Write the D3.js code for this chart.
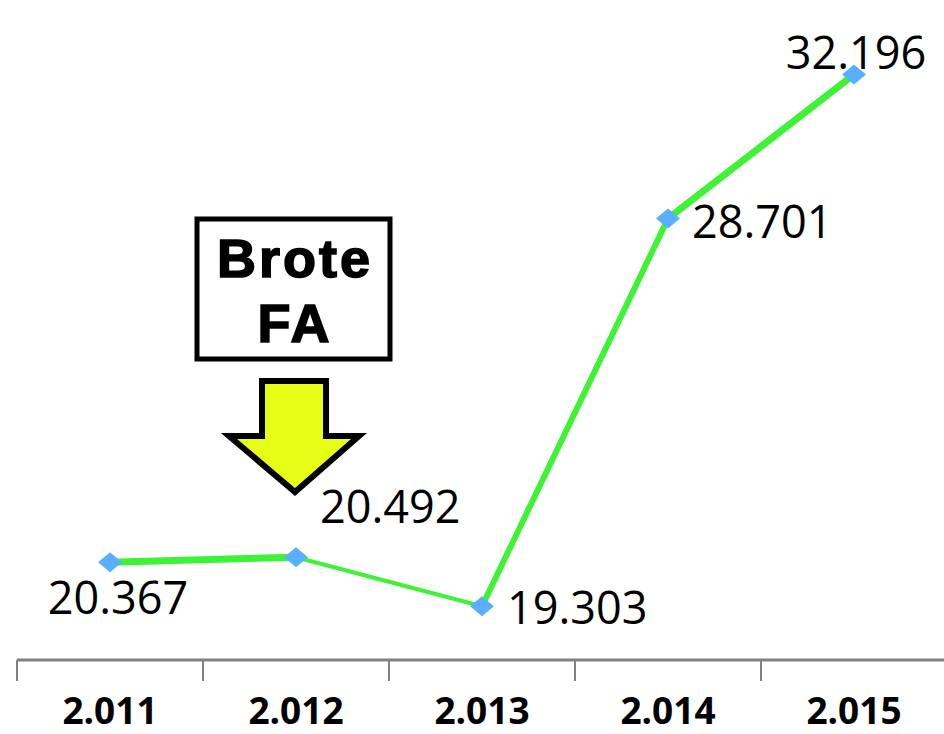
<!DOCTYPE html>
<html>
<head>
<meta charset="utf-8">
<script src="https://cdn.jsdelivr.net/npm/d3@7"></script>
<style>
  body { margin: 0; background: #fff; }
  .val { font-family: "Open Sans", sans-serif; font-size: 45px; fill: #000; }
  .cat { font-family: "Open Sans", sans-serif; font-size: 37px; font-weight: 700; fill: #000; }
  .note { font-family: "Liberation Sans", Arial, sans-serif; font-size: 54px; font-weight: 700; fill: #000;
          stroke: #000; stroke-width: 1.6px; letter-spacing: 3px; }
</style>
</head>
<body>
<svg id="chart" width="944" height="734"></svg>
<script>
// data
var years = ["2.011", "2.012", "2.013", "2.014", "2.015"];
var values = [20.367, 20.492, 19.303, 28.701, 32.196];
var valueLabels = ["20.367", "20.492", "19.303", "28.701", "32.196"];

var svg = d3.select("#chart");

var x = d3.scalePoint().domain(years).range([17, 947]).padding(0.5);
var band = d3.scaleBand().domain(years).range([17, 947]);
var y = d3.scaleLinear().domain([18, 34]).range([660, 0]);

/// axis line + ticks between categories
var axis = svg.append("g");
axis.append("line")
  .attr("x1", 17).attr("x2", 944)
  .attr("y1", y(18)).attr("y2", y(18))
  .attr("stroke", "#808080").attr("stroke-width", 3);
axis.selectAll(".tk").data(years).enter().append("line")
  .attr("x1", d => band(d)).attr("x2", d => band(d))
  .attr("y1", y(18)).attr("y2", y(18) + 21)
  .attr("stroke", "#808080").attr("stroke-width", 2);
axis.selectAll(".cat").data(years).enter().append("text")
  .attr("class", "cat")
  .attr("x", d => x(d)).attr("y", 724)
  .attr("text-anchor", "middle")
  .text(d => d);

/// line, one piece per segment (the widths vary in the original)
var segW = [7, 4, 6, 7];
var pts = years.map((d, i) => [x(d), y(values[i])]);
svg.append("g").selectAll("line").data(d3.pairs(pts)).enter().append("line")
  .attr("x1", d => d[0][0]).attr("y1", d => d[0][1])
  .attr("x2", d => d[1][0]).attr("y2", d => d[1][1])
  .attr("stroke", "#3ef236")
  .attr("stroke-linecap", "round")
  .attr("stroke-width", (d, i) => segW[i]);

/// markers
svg.append("g").selectAll("path").data(pts).enter().append("path")
  .attr("transform", d => "translate(" + d[0] + "," + d[1] + ")")
  .attr("d", "M-12,0L0,-10L12,0L0,10Z")
  .attr("fill", "#5aaffc");

/// value labels
var offs = [[8, 52, "middle"], [24, -34, "start"], [25, 18, "start"], [24, 19, "start"], [2, -5, "middle"]];
svg.append("g").selectAll("text").data(values).enter().append("text")
  .attr("class", "val")
  .attr("x", (d, i) => x(years[i]) + offs[i][0])
  .attr("y", (d, i) => y(d) + offs[i][1])
  .attr("text-anchor", (d, i) => offs[i][2])
  .text((d, i) => valueLabels[i]);

/// "Brote FA" note and arrow above 2.012
var cx = x(years[1]) - 3;
var note = svg.append("g");
note.append("rect")
  .attr("x", cx - 96).attr("y", 219)
  .attr("width", 193).attr("height", 140)
  .attr("fill", "#fff").attr("stroke", "#000").attr("stroke-width", 5);
note.append("text").attr("class", "note")
  .attr("x", cx + 2).attr("y", 277).attr("text-anchor", "middle").text("Brote");
note.append("text").attr("class", "note")
  .attr("x", cx + 2).attr("y", 342).attr("text-anchor", "middle").text("FA");

var ax = x(years[1]) - 1;
var arrow = [[ax - 33, 381], [ax + 31, 381], [ax + 31, 436], [ax + 64, 436],
             [ax, 492], [ax - 66, 436], [ax - 33, 436]];
note.append("path")
  .attr("d", d3.line()(arrow) + "Z")
  .attr("fill", "#e6ff14").attr("stroke", "#000")
  .attr("stroke-width", 6).attr("stroke-linejoin", "miter");
</script>
</body>
</html>
